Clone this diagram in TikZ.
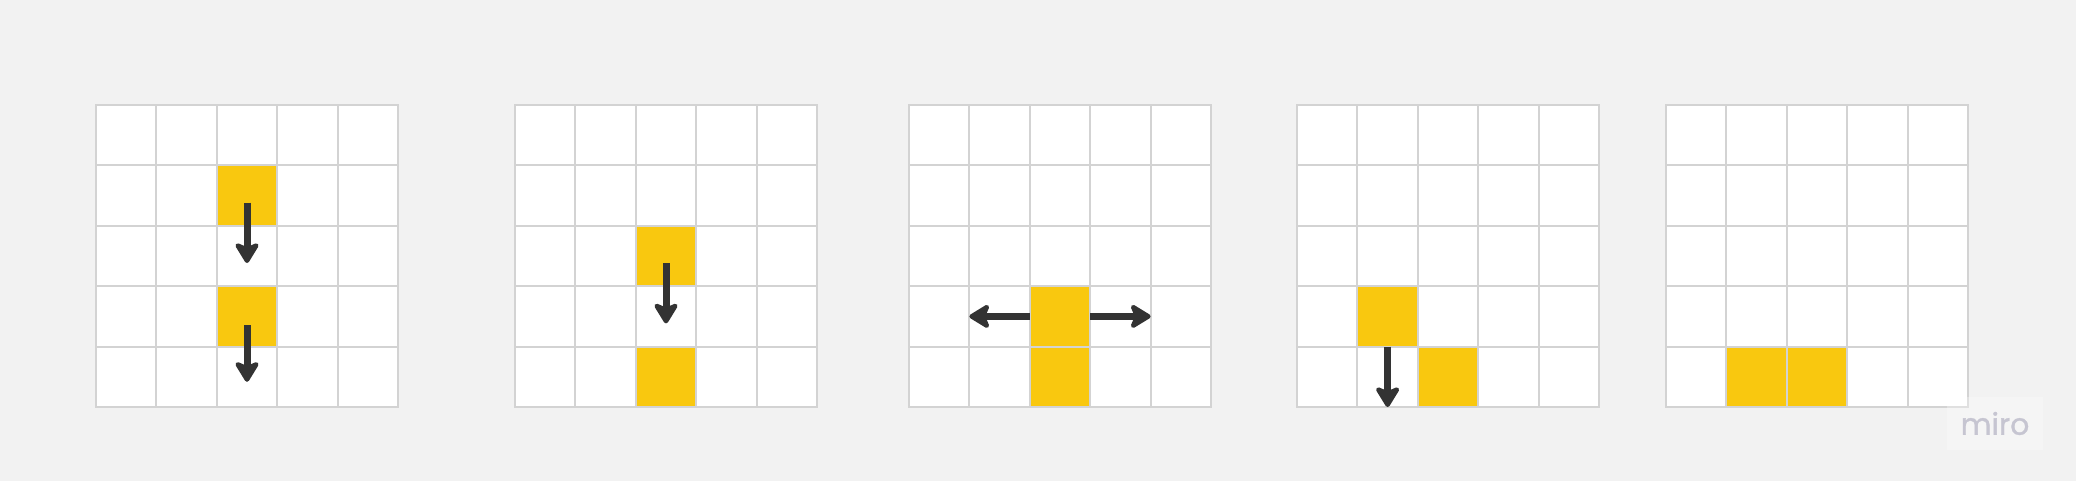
\documentclass[tikz,border=0pt]{standalone}
\usepackage{fontspec}
\newfontfamily\mirofont{Poppins}[FakeBold=1.2]
\usetikzlibrary{arrows.meta}
\definecolor{bg}{HTML}{F2F2F2}
\definecolor{gridline}{HTML}{D3D3D3}
\definecolor{cellyellow}{HTML}{F9C80F}
\definecolor{arrowgray}{HTML}{333333}
\definecolor{logogray}{HTML}{C6C5D1}
\begin{document}
\begin{tikzpicture}[x=0.5pt,y=-0.5pt,
    cell/.style={draw=gridline,line width=1pt,fill=white,minimum size=30.2pt,inner sep=0pt,outer sep=0pt,anchor=north west},
    hit/.style={cell,fill=cellyellow},
    move/.style={-{Stealth[length=12pt,width=14.5pt,inset=3pt,round]},draw=arrowgray,line width=3.5pt}]

    \fill[bg] (0,0) rectangle (2076,481);
    \useasboundingbox (0,0) rectangle (2076,481);

    % five 5x5 boards
    \foreach \g/\gx in {1/96,2/515,3/909,4/1297,5/1666}
      \foreach \r in {0,...,4}
	\foreach \c in {0,...,4}
	  \node[cell] (g\g-\r-\c) at ({\gx+60.4*\c},{105+60.4*\r}) {};

    % filled cells
    \foreach \g/\r/\c in {1/1/2,1/3/2,2/2/2,2/4/2,3/3/2,3/4/2,4/3/1,4/4/2,5/4/1,5/4/2}
      \node[hit] (y\g-\r-\c) at (g\g-\r-\c.north west) {};

    % moves
    \draw[move] ([yshift=-3.5pt]y1-1-2.center) -- ([yshift=-3.5pt]g1-2-2.center);
    \draw[move] ([yshift=-4.5pt]y1-3-2.center) -- ([yshift=-2.5pt]g1-4-2.center);
    \draw[move] ([yshift=-3.5pt]y2-2-2.center) -- ([yshift=-3.5pt]g2-3-2.center);
    \draw[move] (y3-3-2.west) -- (g3-3-1.west);
    \draw[move] (y3-3-2.east) -- (g3-3-4.west);
    \draw[move] (y4-3-1.south) -- (g4-4-1.south);

    % watermark
    \node[fill=white,fill opacity=0.3,text opacity=1,minimum width=48pt,minimum height=26.5pt,inner sep=0pt] (logo) at (1995,423.5) {};
    \node[text=logogray,font=\mirofont\fontsize{15}{15}\selectfont,inner sep=0pt] (miro) at (logo.center) {miro};
  \end{tikzpicture}
\end{document}
